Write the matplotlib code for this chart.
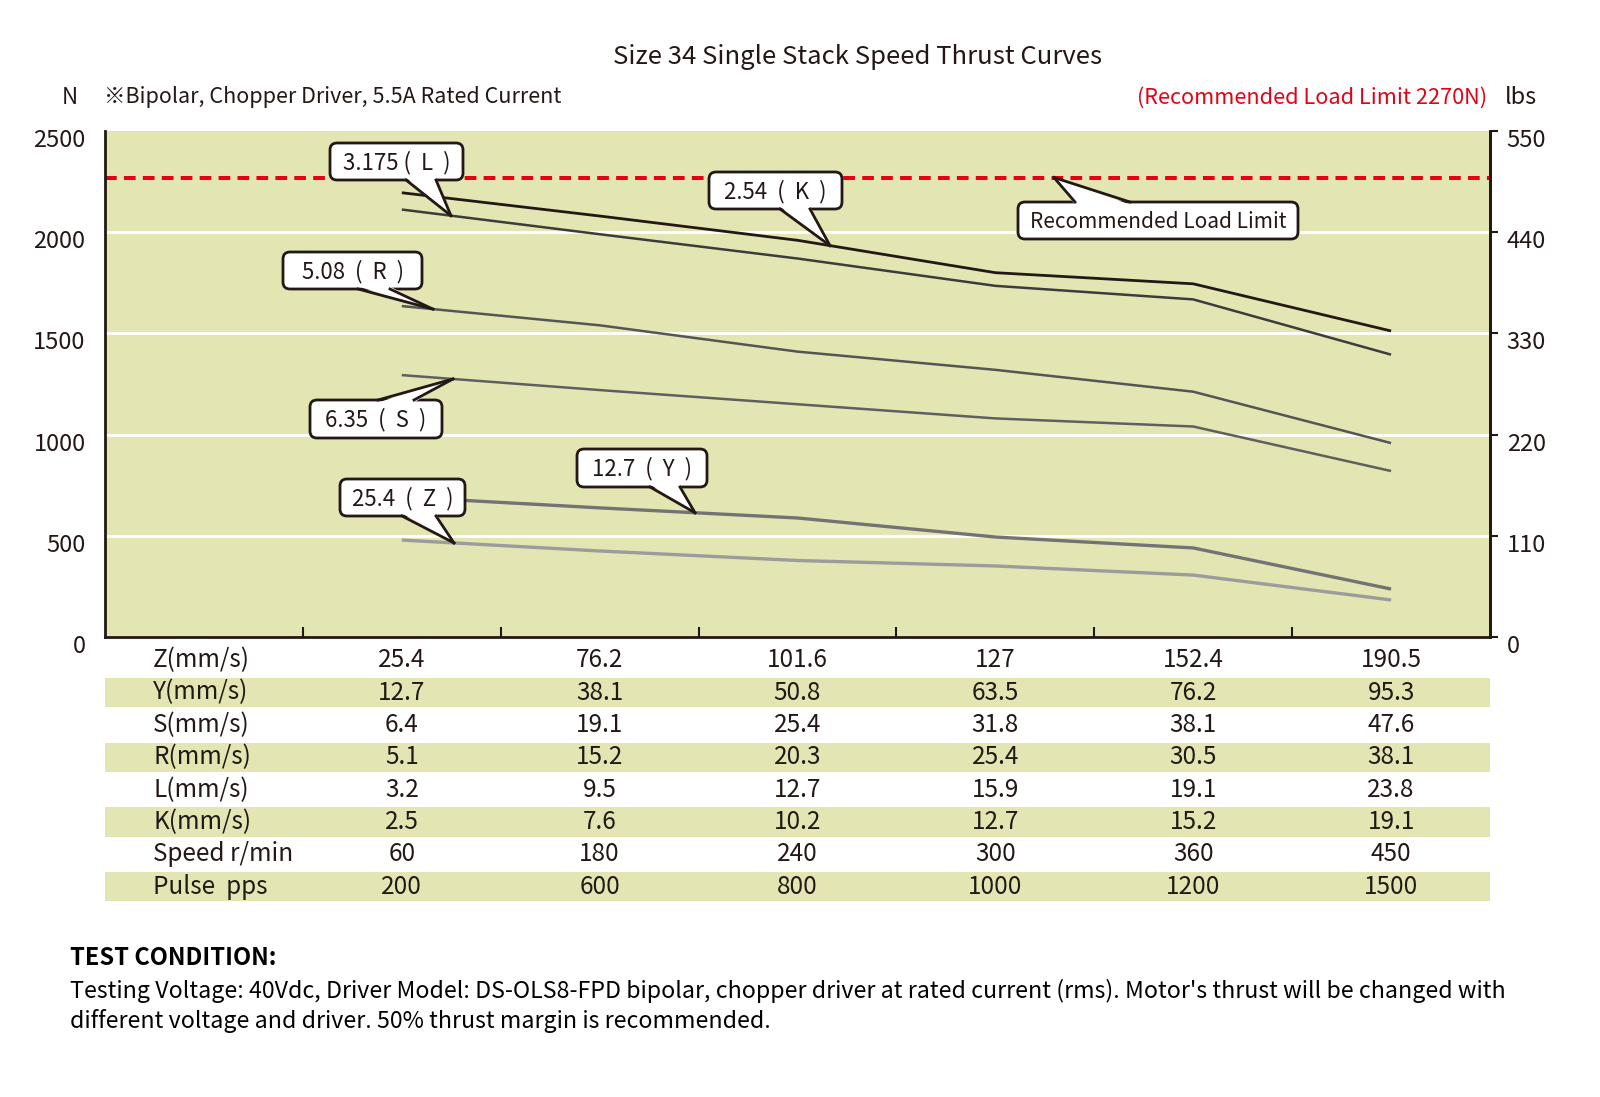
import matplotlib
matplotlib.use("Agg")
import matplotlib.pyplot as plt
import numpy as np
from matplotlib.patches import FancyBboxPatch, Polygon
from matplotlib.transforms import Affine2D, ScaledTranslation

plt.rcParams["font.family"] = ["Noto Sans CJK JP", "DejaVu Sans"]

W, H = 1600, 1097

# ---- data -------------------------------------------------------------------
slots = [1.5, 2.5, 3.5, 4.5, 5.5, 6.5]
thrust_K = [2195, 2080, 1960, 1800, 1745, 1512]
thrust_L = [2112, 1990, 1870, 1735, 1668, 1395]
thrust_R = [1635, 1540, 1410, 1320, 1212, 958]
thrust_S = [1294, 1220, 1150, 1080, 1040, 820]
thrust_Y = [692, 638, 588, 494, 440, 237]
thrust_Z = [479, 425, 378, 351, 306, 183]
load_limit = 2270

row_labels = ["Z(mm/s)", "Y(mm/s)", "S(mm/s)", "R(mm/s)", "L(mm/s)", "K(mm/s)",
              "Speed r/min", "Pulse  pps"]
row_values = [
    ["25.4", "76.2", "101.6", "127", "152.4", "190.5"],
    ["12.7", "38.1", "50.8", "63.5", "76.2", "95.3"],
    ["6.4", "19.1", "25.4", "31.8", "38.1", "47.6"],
    ["5.1", "15.2", "20.3", "25.4", "30.5", "38.1"],
    ["3.2", "9.5", "12.7", "15.9", "19.1", "23.8"],
    ["2.5", "7.6", "10.2", "12.7", "15.2", "19.1"],
    ["60", "180", "240", "300", "360", "450"],
    ["200", "600", "800", "1000", "1200", "1500"],
]
n_ticks = [0, 500, 1000, 1500, 2000, 2500]
lbs_ticks = [0, 110, 220, 330, 440, 550]

BG = "#e3e6b3"
RED = "#e60012"
INK = "#231815"

fig = plt.figure(figsize=(W / 100, H / 100), dpi=100)
# reference-pixel transform (origin top-left)
pxT = Affine2D().scale(1, -1).translate(0, H)

ax = fig.add_axes([105 / W, 1 - 637 / H, 1385 / W, 506 / H])
ax.set_facecolor(BG)
ax.set_xlim(0, 7)
ax.set_ylim(0, 2500)
ax.set_xticks([1, 2, 3, 4, 5, 6])
ax.set_xticklabels([])
ax.tick_params(axis="x", direction="in", length=7, width=1.5, color=INK)
ax.set_yticks(n_ticks)
ax.set_yticklabels([str(v) for v in n_ticks], fontsize=17, color=INK)
ax.tick_params(axis="y", length=0, pad=14)
for lab in ax.get_yticklabels():
    lab.set_transform(lab.get_transform() + ScaledTranslation(0, -7 / 100, fig.dpi_scale_trans))
for s in ["left", "bottom", "right"]:
    ax.spines[s].set_color(INK)
    ax.spines[s].set_linewidth(2)
ax.spines["top"].set_visible(False)
for v in n_ticks[1:-1]:
    ax.axhline(v, color="white", lw=2, zorder=1)

ax2 = ax.twinx()
ax2.set_ylim(0, 550)
ax2.set_yticks(lbs_ticks)
ax2.set_yticklabels([str(v) for v in lbs_ticks], fontsize=17, color=INK)
ax2.tick_params(axis="y", direction="out", length=6, width=1.5, color=INK, pad=6)
for lab in ax2.get_yticklabels():
    lab.set_transform(lab.get_transform() + ScaledTranslation(0, -7 / 100, fig.dpi_scale_trans))
for s in ["left", "bottom", "top"]:
    ax2.spines[s].set_visible(False)
ax2.spines["right"].set_color(INK)
ax2.spines["right"].set_linewidth(2)

ax.axhline(load_limit, color=RED, lw=2.9, ls=(0, (2.9, 1.8)), zorder=2)

series = [
    ("K", thrust_K, "#231815", 2.0),
    ("L", thrust_L, "#3c3c3c", 1.8),
    ("R", thrust_R, "#555555", 1.8),
    ("S", thrust_S, "#5f5f5f", 1.8),
    ("Y", thrust_Y, "#737373", 2.4),
    ("Z", thrust_Z, "#9c9c9c", 2.4),
]
curves = {}
for name, vals, col, lw in series:
    ax.plot(slots, vals, color=col, lw=lw, zorder=3, solid_capstyle="butt")
    curves[name] = vals


def to_px(xd, yd):
    dx, dy = ax.transData.transform((xd, yd))
    return dx, H - dy


def px_to_xd(px):
    return (px - 105) / 1385 * 7


def callout(text, box, base, tip_px_x, tip_vals, side="bottom", fs=16):
    x0, y0, x1, y1 = box
    pb = FancyBboxPatch((x0, y0), x1 - x0, y1 - y0,
                        boxstyle="round,pad=0,rounding_size=7",
                        fc="white", ec=INK, lw=2, transform=pxT, zorder=8)
    fig.add_artist(pb)
    xd = px_to_xd(tip_px_x)
    if np.isscalar(tip_vals):
        yd = tip_vals
    else:
        yd = np.interp(xd, slots, tip_vals)
    tx, ty = to_px(xd, yd)
    by = y1 if side == "bottom" else y0
    inset = -2.5 if side == "bottom" else 2.5
    tri = Polygon([(base[0], by + inset), (base[1], by + inset), (tx, ty)],
                  closed=True, fc="white", ec="none", transform=pxT, zorder=9)
    fig.add_artist(tri)
    for bx in base:
        fig.add_artist(plt.Line2D([bx, tx], [by, ty], color=INK, lw=2,
                                  transform=pxT, zorder=10))
    fig.text((x0 + x1) / 2, (y0 + y1) / 2 + 1, text, transform=pxT, ha="center",
             va="center", fontsize=fs, color=INK, zorder=11)


callout("3.175 (  L  )", (330, 143, 463, 180), (406, 436), 451, curves["L"])
callout("2.54  (  K  )", (709, 172, 842, 209), (780, 810), 830, curves["K"])
callout("5.08  (  R  )", (283, 252, 422, 289), (358, 390), 433, curves["R"])
callout("6.35  (  S  )", (310, 400, 442, 438), (378, 414), 453, curves["S"], side="top")
callout("12.7  (  Y  )", (577, 449, 707, 487), (650, 680), 695, curves["Y"])
callout("25.4  (  Z  )", (340, 479, 465, 516), (402, 436), 454, curves["Z"])
callout("Recommended Load Limit", (1018, 202, 1298, 239), (1075, 1130), 1054,
        load_limit, side="top", fs=15)

# ---- table ------------------------------------------------------------------
tab = fig.add_axes([105 / W, 1 - 903 / H, 1385 / W, 259 / H])
tab.set_xlim(0, 7)
tab.set_ylim(len(row_labels), 0)
tab.axis("off")
for i, (lab, vals) in enumerate(zip(row_labels, row_values)):
    if i % 2 == 1:
        tab.axhspan(i + 0.05, i + 0.95, color=BG, lw=0, zorder=0)
    tab.text(px_to_xd(153), i + 0.5, lab, ha="left", va="center", fontsize=17.5,
             color=INK)
    for xs, v in zip(slots, vals):
        tab.text(xs, i + 0.5, v, ha="center", va="center", fontsize=17.5,
                 color=INK)

# ---- headings and notes ---------------------------------------------------
fig.text(858, 57, "Size 34 Single Stack Speed Thrust Curves", transform=pxT,
         ha="center", va="center", fontsize=18.5, color=INK)
fig.text(70, 97, "N", transform=pxT, ha="center", va="center", fontsize=16,
         color=INK)
fig.text(104, 97, "※Bipolar, Chopper Driver, 5.5A Rated Current", transform=pxT,
         ha="left", va="center", fontsize=15.5, color=INK)
fig.text(1487, 98, "(Recommended Load Limit 2270N)", transform=pxT, ha="right",
         va="center", fontsize=15.6, color=RED)
fig.text(1505, 98, "lbs", transform=pxT, ha="left", va="center", fontsize=17,
         color=INK)

fig.text(70, 958, "TEST CONDITION:", transform=pxT, ha="left", va="center",
         fontsize=17, fontweight="bold", color="black")
fig.text(70, 991,
         "Testing Voltage: 40Vdc, Driver Model: DS-OLS8-FPD bipolar, chopper driver "
         "at rated current (rms). Motor's thrust will be changed with",
         transform=pxT, ha="left", va="center", fontsize=16.7, color="black")
fig.text(70, 1021, "different voltage and driver. 50% thrust margin is recommended.",
         transform=pxT, ha="left", va="center", fontsize=16.7, color="black")

fig.savefig("out.png", dpi=100, facecolor="white")
